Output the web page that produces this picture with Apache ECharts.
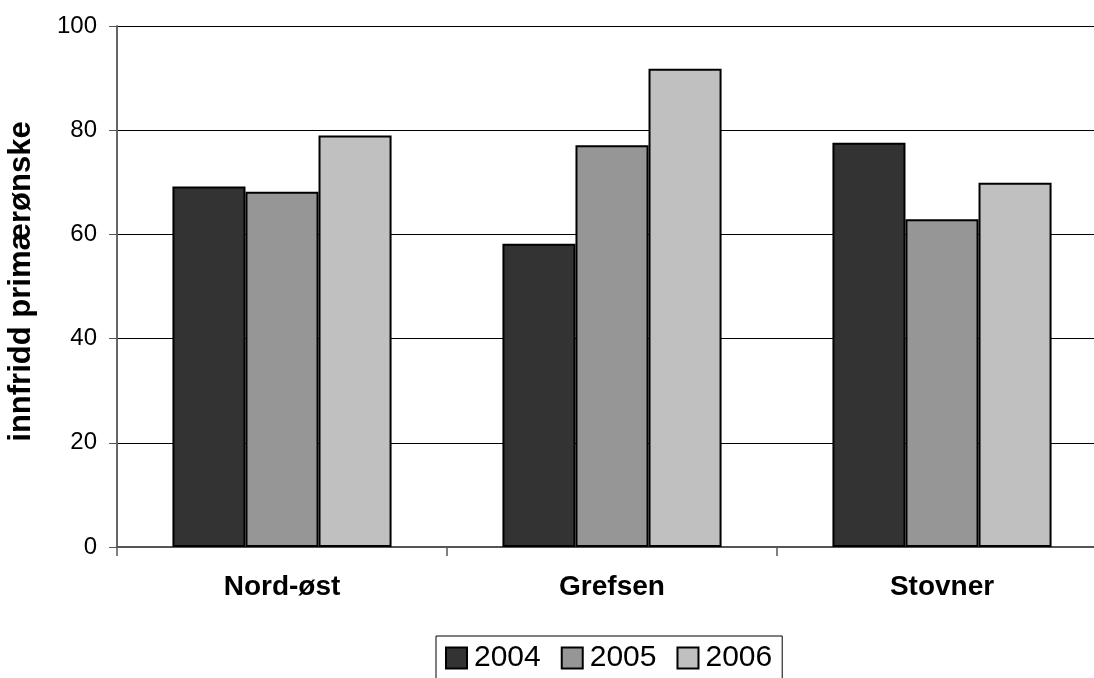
<!DOCTYPE html>
<html>
<head>
<meta charset="utf-8">
<script src="https://cdn.jsdelivr.net/npm/echarts@6/dist/echarts.min.js"></script>
<style>
html,body{margin:0;padding:0;background:#fff;}
#c{width:1094px;height:678px;}
</style>
</head>
<body>
<div id="c"></div>
<script>
const categories = ['Nord-øst', 'Grefsen', 'Stovner'];
const seriesNames = ['2004', '2005', '2006'];
const v2004 = [69.2, 58.2, 77.6];
const v2005 = [68.2, 77.1, 62.9];
const v2006 = [79.0, 91.8, 69.9];
const yTicks = [0, 20, 40, 60, 80, 100];
const yTitle = 'innfridd primærønske';

const colors = ['#333333', '#969696', '#c0c0c0'];
const values = [v2004, v2005, v2006];
const FONT = '"Liberation Sans", Arial, sans-serif';

const chart = echarts.init(document.getElementById('c'), null, {renderer: 'canvas'});
chart.setOption({
  animation: false,
  backgroundColor: '#fff',
  grid: {left: 117, top: 26, width: 990, bottom: 131, containLabel: false, outerBoundsMode: 'none'},
  legend: {
    data: seriesNames,
    left: 436,
    top: 636,
    orient: 'horizontal',
    padding: [7, 10, 10, 9],
    itemGap: 20,
    itemWidth: 21,
    itemHeight: 21,
    borderColor: '#000',
    borderWidth: 1,
    backgroundColor: '#fff',
    textStyle: {fontFamily: FONT, fontSize: 30, color: '#000', padding: [0, 0, 0, 2]},
    icon: 'rect'
  },
  xAxis: {
    type: 'category',
    data: categories,
    boundaryGap: true,
    axisLine: {lineStyle: {color: '#555', width: 2}},
    axisTick: {show: true, length: 9, lineStyle: {color: '#555', width: 1.5}},
    axisLabel: {fontFamily: FONT, fontSize: 28, fontWeight: 'bold', color: '#000', margin: 26},
    splitLine: {show: false}
  },
  yAxis: {
    type: 'value',
    min: yTicks[0],
    max: yTicks[yTicks.length - 1],
    interval: yTicks[1] - yTicks[0],
    name: yTitle,
    nameLocation: 'middle',
    nameGap: 80,
    nameRotate: 90,
    nameTextStyle: {fontFamily: FONT, fontSize: 31, fontWeight: 'bold', color: '#000', padding: [0, 0, 0, 10]},
    axisLine: {show: true, lineStyle: {color: '#666', width: 2}},
    axisTick: {show: true, inside: false, length: 8, lineStyle: {color: '#555', width: 1}},
    axisLabel: {fontFamily: FONT, fontSize: 24, color: '#000', margin: 20},
    splitLine: {show: true, lineStyle: {color: '#000', width: 1}}
  },
  series: seriesNames.map((n, i) => ({
    name: n,
    type: 'bar',
    data: values[i],
    barGap: '0%',
    barCategoryGap: '33.6%',
    itemStyle: {color: colors[i], borderColor: '#000', borderWidth: 2}
  }))
});
</script>
</body>
</html>
